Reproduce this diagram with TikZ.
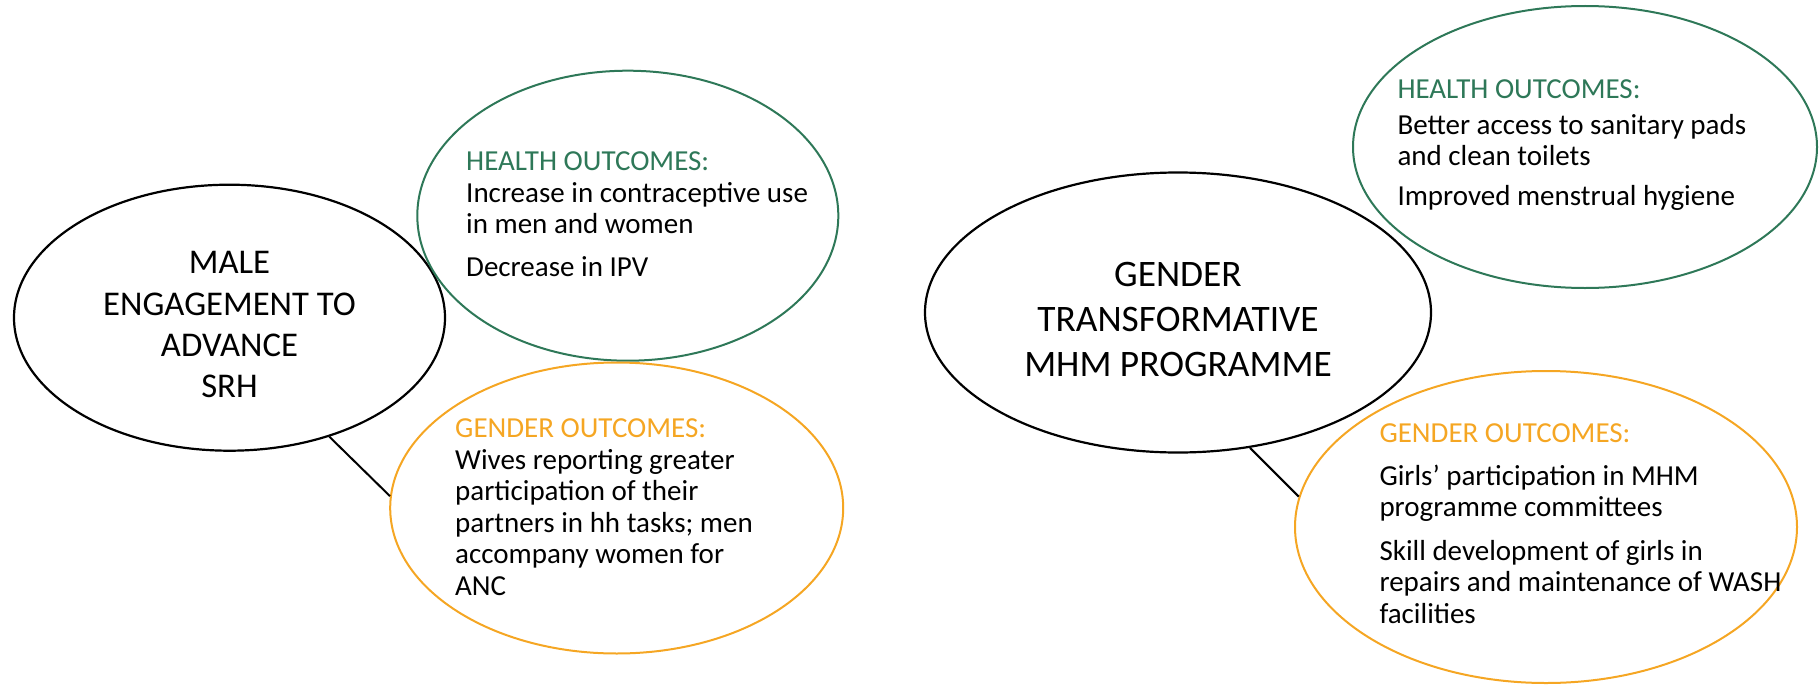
\documentclass[tikz,border=0pt]{standalone}
\usepackage{fontspec}
\setmainfont{Carlito}
\usepackage{xcolor}
\usetikzlibrary{shapes, positioning}
\definecolor{healthgreen}{RGB}{46,120,88}
\definecolor{genderorange}{RGB}{245,166,35}
\newcommand{\healthhead}{{\color{healthgreen}HEALTH OUTCOMES:}}
\newcommand{\genderhead}{{\color{genderorange}GENDER OUTCOMES:}}
\tikzset{
	programme/.style={ellipse, draw=black, line width=2.2pt, inner sep=0pt},
	title/.style={align=center, inner sep=0pt},
	outcome/.style={ellipse, line width=2pt, inner sep=0pt},
	outtext/.style={align=left, anchor=base west, inner sep=0pt, font=\fontsize{29}{31.5}\selectfont},
	link/.style={draw=black, line width=2pt}
}

\begin{document}
\begin{tikzpicture}[x=1pt, y=-1pt]
				\useasboundingbox (0,0) rectangle (1820,685);
				
				\node[programme, minimum width=431pt, minimum height=266pt] (male) at (229.5,317.7) {};
				\node[title, font=\fontsize{34.7}{41.3}\selectfont] (maletitle) at (229.5,324.7) {MALE\\ENGAGEMENT TO\\ADVANCE\\SRH};
				\node[outcome, draw=healthgreen, minimum width=421pt, minimum height=290pt] (healthA) at (627.8,215.7) {};
				\node[outcome, draw=genderorange, minimum width=453pt, minimum height=291pt] (genderA) at (616.7,508) {};
				
				\node[outtext] (healthAtext) at (466,276) {\healthhead\\Increase in contraceptive use\\in men and women\\[11pt]Decrease in IPV};
				\node[outtext] (genderAtext) at (455,595) {\genderhead\\Wives reporting greater\\participation of their\\partners in hh tasks; men\\accompany women for\\ANC};
				
				\node[programme, minimum width=506pt, minimum height=280pt] (mhm) at (1178,312.5) {};
				\node[title, font=\fontsize{37.4}{45}\selectfont] (mhmtitle) at (1178,319.5) {GENDER\\TRANSFORMATIVE\\MHM PROGRAMME};
				\node[outcome, draw=healthgreen, minimum width=464pt, minimum height=282pt] (healthB) at (1585,147) {};
				\node[outcome, draw=genderorange, minimum width=502pt, minimum height=312pt] (genderB) at (1546,527) {};
				
				\node[outtext] (healthBtext) at (1397.3,205) {\healthhead\\[4pt]Better access to sanitary pads\\and clean toilets\\[8pt]Improved menstrual hygiene};
				\node[outtext] (genderBtext) at (1379.3,623.3) {\genderhead\\[11pt]Girls’ participation in MHM\\programme committees\\[12pt]Skill development of girls in\\repairs and maintenance of WASH\\facilities};
				
				\draw[link] (male.-50.4) -- (genderA.177);
				\draw[link] (mhm.-62.6) -- (genderB.173);
			\end{tikzpicture}
\end{document}
